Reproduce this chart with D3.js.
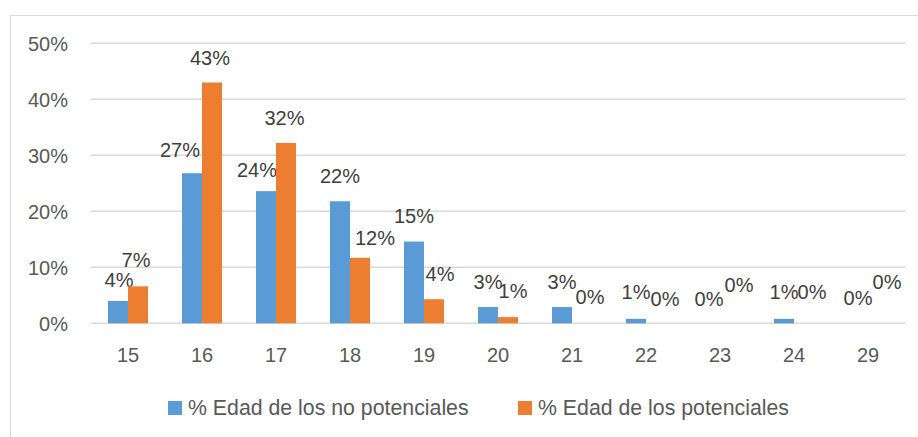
<!DOCTYPE html>
<html>
<head>
<meta charset="utf-8">
<script src="https://cdn.jsdelivr.net/npm/d3@7"></script>
<style>
  html, body { margin: 0; padding: 0; background: #ffffff; }
  svg { display: block; }
</style>
</head>
<body>
<svg id="chart" width="918" height="437"></svg>
<script>
// ---- data ----
const ages = ["15", "16", "17", "18", "19", "20", "21", "22", "23", "24", "29"];
const noPotenciales = [0.040, 0.268, 0.236, 0.218, 0.146, 0.029, 0.029, 0.008, 0.000, 0.008, 0.000];
const potenciales   = [0.066, 0.430, 0.322, 0.117, 0.043, 0.011, 0.000, 0.000, 0.000, 0.000, 0.000];
const seriesNames = ["% Edad de los no potenciales", "% Edad de los potenciales"];
const yTicks = [0, 0.1, 0.2, 0.3, 0.4, 0.5];

// ---- layout / style (label collision nudges, as in the source) ----
const colors = ["#5b9bd5", "#ed7d31"];
const labelNudges = [
  [[1,4],[-12,2],[-9,4],[0,0],[0,-1],[0,0],[0,0],[0,-1.5],[-1,1],[0,-1.5],[0,0]],
  [[-2,-1],[-2,0],[-1.5,0],[15,5],[6,0],[5,-1],[8,-1],[9,1],[9,-13],[8,-6],[9,-16]]
];
const FONT = "'Liberation Sans', Arial, sans-serif";

const svg = d3.select("#chart");

// chart border (top + left visible)
svg.append("rect")
  .attr("x", 10.5).attr("y", 15.5)
  .attr("width", 930).attr("height", 440)
  .attr("fill", "none").attr("stroke", "#d9d9d9").attr("stroke-width", 1);

const plotLeft = 91, plotRight = 905, plotTop = 43.3, plotBottom = 323.3;

const x0 = d3.scaleBand().domain(ages).range([plotLeft, plotRight])
  .paddingInner(34 / 74).paddingOuter(17 / 74);
const x1 = d3.scaleBand().domain([0, 1]).range([0, x0.bandwidth()]);
const y = d3.scaleLinear().domain([0, 0.5]).range([plotBottom, plotTop]);

// gridlines
svg.append("g").selectAll("line").data(yTicks).join("line")
  .attr("x1", plotLeft).attr("x2", plotRight)
  .attr("y1", d => y(d)).attr("y2", d => y(d))
  .attr("stroke", "#d9d9d9").attr("stroke-width", 1.6);

// y axis labels
const fmt = d3.format(".0%");
svg.append("g").selectAll("text").data(yTicks).join("text")
  .attr("x", 68).attr("y", d => y(d) + 7.3)
  .attr("text-anchor", "end")
  .attr("font-family", FONT).attr("font-size", 20)
  .attr("fill", "#595959")
  .text(d => fmt(d));

// x axis labels
svg.append("g").selectAll("text").data(ages).join("text")
  .attr("x", d => x0(d) + x0.bandwidth() / 2)
  .attr("y", plotBottom + 39)
  .attr("text-anchor", "middle")
  .attr("font-family", FONT).attr("font-size", 20)
  .attr("fill", "#595959")
  .text(d => d);

// bars + labels
const series = [noPotenciales, potenciales];
series.forEach((vals, si) => {
  const rows = ages.map((a, i) => ({ age: a, v: vals[i], n: labelNudges[si][i] }));
  svg.append("g").selectAll("rect").data(rows).join("rect")
    .attr("x", d => x0(d.age) + x1(si))
    .attr("y", d => y(d.v))
    .attr("width", x1.bandwidth())
    .attr("height", d => y(0) - y(d.v))
    .attr("fill", colors[si]);
  svg.append("g").selectAll("text").data(rows).join("text")
    .attr("x", d => x0(d.age) + x1(si) + x1.bandwidth() / 2 + d.n[0])
    .attr("y", d => y(d.v) - 18 + d.n[1])
    .attr("text-anchor", "middle")
    .attr("font-family", FONT).attr("font-size", 20)
    .attr("fill", "#404040")
    .text(d => fmt(d.v));
});

// legend
const legendX = [168, 518];
const legend = svg.append("g").selectAll("g").data(seriesNames).join("g")
  .attr("transform", (d, i) => `translate(${legendX[i]},401)`);
legend.append("rect")
  .attr("width", 14).attr("height", 14)
  .attr("fill", (d, i) => colors[i]);
legend.append("text")
  .attr("x", 20).attr("y", 14)
  .attr("font-family", FONT).attr("font-size", 21.3)
  .attr("fill", "#595959")
  .text(d => d);
</script>
</body>
</html>
